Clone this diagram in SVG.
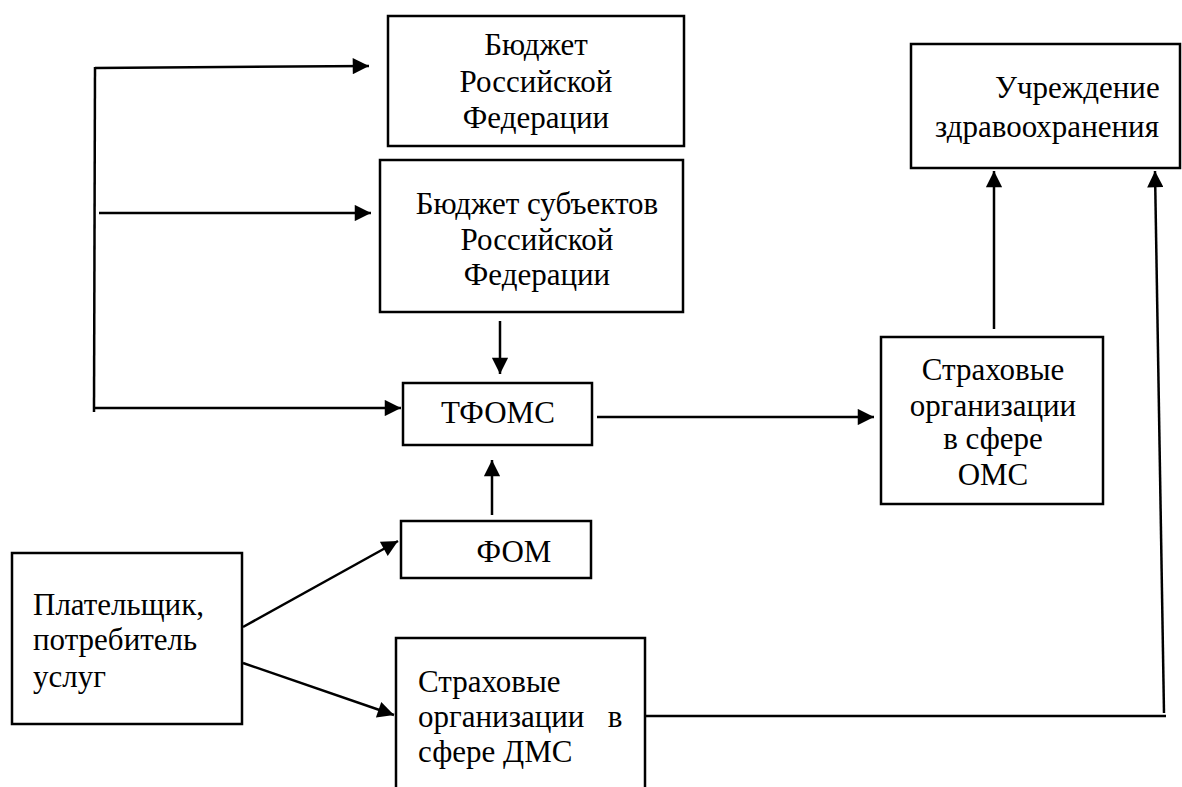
<svg xmlns="http://www.w3.org/2000/svg" width="1182" height="787" viewBox="0 0 1182 787">
<style>
rect{fill:#fff;stroke:#000;stroke-width:2.5}
text{font-family:"Liberation Serif","Times New Roman",serif;font-size:31px;fill:#000}
.c{text-anchor:middle}
.ln{stroke:#000;stroke-width:2.5;fill:none}
.a{marker-end:url(#ah)}
</style>
<defs>
<marker id="ah" viewBox="0 0 10 10" refX="10" refY="5" markerWidth="7" markerHeight="6.5" markerUnits="strokeWidth" orient="auto">
<path d="M0,0 L10,5 L0,10 z" fill="#000"/>
</marker>
</defs>
<rect width="1182" height="787" style="stroke:none"/>
<g id="connectors">
<line class="ln" x1="95" y1="67" x2="94" y2="412"/>
<line class="ln a" x1="95" y1="68" x2="369" y2="66"/>
<line class="ln a" x1="99" y1="213" x2="371" y2="213"/>
<line class="ln a" x1="94" y1="408" x2="401" y2="408"/>
<line class="ln a" x1="500" y1="321" x2="500" y2="374"/>
<line class="ln a" x1="492" y1="515" x2="492" y2="460"/>
<line class="ln a" x1="597" y1="417" x2="874" y2="417"/>
<line class="ln a" x1="994" y1="329" x2="994" y2="171"/>
<line class="ln a" x1="1164" y1="713" x2="1155" y2="171"/>
<line class="ln" x1="643" y1="716" x2="1166" y2="716"/>
<line class="ln a" x1="243" y1="627" x2="398" y2="541"/>
<line class="ln a" x1="243" y1="663" x2="394" y2="715"/>
</g>
<g id="budget-rf">
<rect x="388" y="16" width="296" height="130"/>
<text class="c" x="536" y="55">Бюджет</text>
<text class="c" x="536" y="92">Российской</text>
<text class="c" x="536" y="128">Федерации</text>
</g>
<g id="budget-subj">
<rect x="380" y="160" width="303" height="152"/>
<text class="c" x="537" y="214">Бюджет субъектов</text>
<text class="c" x="537" y="250">Российской</text>
<text class="c" x="537" y="285">Федерации</text>
</g>
<g id="tfoms">
<rect x="403" y="383" width="189" height="62"/>
<text class="c" x="498" y="423">ТФОМС</text>
</g>
<g id="fom">
<rect x="401" y="521" width="190" height="57"/>
<text class="c" x="514" y="562">ФОМ</text>
</g>
<g id="payer">
<rect x="12" y="553" width="230" height="171"/>
<text x="33" y="615">Плательщик,</text>
<text x="33" y="650">потребитель</text>
<text x="33" y="687">услуг</text>
</g>
<g id="dms">
<rect x="396" y="638" width="249" height="160"/>
<text x="418" y="692">Страховые</text>
<text x="418" y="727" xml:space="preserve" style="white-space:pre">организации   в</text>
<text x="418" y="762">сфере ДМС</text>
</g>
<g id="oms">
<rect x="881" y="337" width="222" height="167"/>
<text class="c" x="993" y="380">Страховые</text>
<text class="c" x="993" y="416">организации</text>
<text class="c" x="993" y="449">в сфере</text>
<text class="c" x="993" y="485">ОМС</text>
</g>
<g id="health">
<rect x="911" y="44" width="269" height="124"/>
<text x="995" y="98">Учреждение</text>
<text x="935" y="137">здравоохранения</text>
</g>
</svg>
